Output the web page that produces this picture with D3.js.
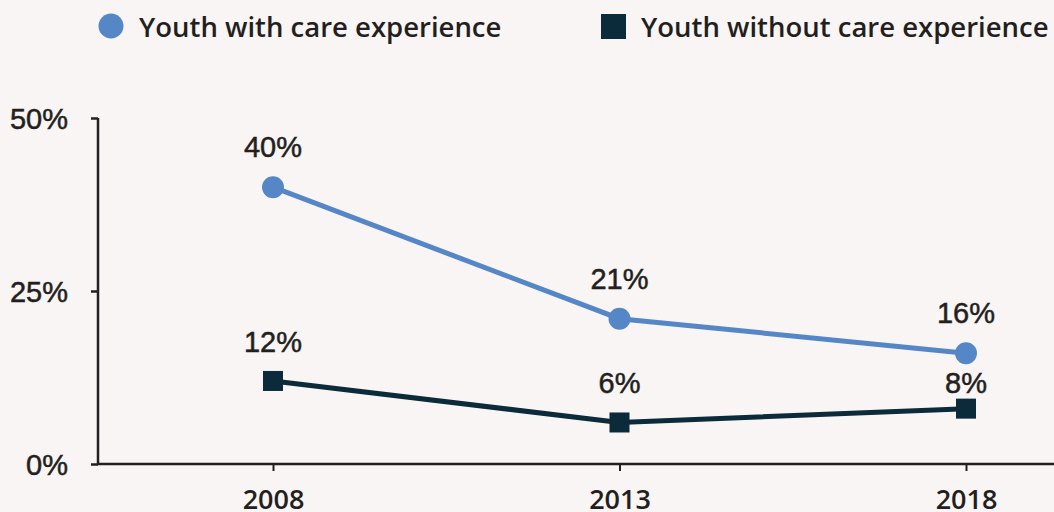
<!DOCTYPE html>
<html>
<head>
<meta charset="utf-8">
<script src="https://cdn.jsdelivr.net/npm/d3@7"></script>
<style>
  html, body { margin: 0; padding: 0; background: #f9f5f4; }
  svg { display: block; }
  .legend text { font-family: "Open Sans", sans-serif; font-weight: 600; font-size: 27.5px; fill: #231f20; }
  .ylab { font-family: "Liberation Sans", Arial, sans-serif; font-size: 29px; fill: #231f20; stroke: #231f20; stroke-width: 0.5px; }
  .xlab { font-family: "Open Sans", sans-serif; font-weight: 600; font-size: 27px; fill: #231f20; }
  .vlab { font-family: "Liberation Sans", Arial, sans-serif; font-size: 29px; fill: #231f20; stroke: #231f20; stroke-width: 0.5px; }
</style>
</head>
<body>
<svg id="chart" width="1054" height="512"></svg>
<script>
// data
var years = ["2008", "2013", "2018"];
var withCare = [40, 21, 16];
var withoutCare = [12, 6, 8];
var yTicks = [0, 25, 50];
var seriesNames = ["Youth with care experience", "Youth without care experience"];

var blue = "#5587c7", navy = "#0b2a3a", ink = "#231f20";

var svg = d3.select("#chart");

// scales
var x = d3.scalePoint().domain(years).range([273, 966]);
var y = d3.scaleLinear().domain([0, 50]).range([464, 118]);

// y axis
var yAxis = svg.append("g").attr("transform", "translate(98,0)")
  .call(d3.axisLeft(y).tickValues(yTicks).tickSize(7).tickPadding(23).tickFormat(function(d) { return d + "%"; }));
yAxis.select(".domain").attr("stroke", ink).attr("stroke-width", 2.5).attr("d", "M0," + y(50) + "V" + y(0));
yAxis.selectAll(".tick line").attr("stroke", ink).attr("stroke-width", 2.5);
yAxis.selectAll(".tick text").attr("class", "ylab").attr("font-family", null).attr("font-size", null).attr("fill", null).attr("dy", "0.36em");

// x axis
var xAxis = svg.append("g").attr("transform", "translate(0," + y(0) + ")")
  .call(d3.axisBottom(x).tickSize(7));
xAxis.select(".domain").attr("stroke", ink).attr("stroke-width", 2.5).attr("d", "M97,0H1054");
xAxis.selectAll(".tick line").attr("stroke", ink).attr("stroke-width", 2);
xAxis.selectAll(".tick text").attr("class", "xlab").attr("font-family", null).attr("font-size", null).attr("fill", null)
  .attr("y", 45).attr("dy", 0);

// lines
var line = d3.line().x(function(d, i) { return x(years[i]); }).y(function(d) { return y(d); });

svg.append("path").datum(withCare).attr("d", line)
  .attr("fill", "none").attr("stroke", blue).attr("stroke-width", 5);
svg.append("path").datum(withoutCare).attr("d", line)
  .attr("fill", "none").attr("stroke", navy).attr("stroke-width", 5);

svg.selectAll("circle.pt").data(withCare).enter().append("circle")
  .attr("class", "pt")
  .attr("cx", function(d, i) { return x(years[i]); })
  .attr("cy", function(d) { return y(d); })
  .attr("r", 11).attr("fill", blue);

svg.selectAll("rect.pt").data(withoutCare).enter().append("rect")
  .attr("class", "pt")
  .attr("x", function(d, i) { return x(years[i]) - 10; })
  .attr("y", function(d) { return y(d) - 10; })
  .attr("width", 20).attr("height", 20).attr("fill", navy);

// value labels
svg.selectAll("text.v1").data(withCare).enter().append("text")
  .attr("class", "vlab").attr("text-anchor", "middle")
  .attr("x", function(d, i) { return x(years[i]); })
  .attr("y", function(d) { return y(d) - 30; })
  .text(function(d) { return d + "%"; });

// the 2018 label sits closer so it clears the blue dot
svg.selectAll("text.v2").data(withoutCare).enter().append("text")
  .attr("class", "vlab").attr("text-anchor", "middle")
  .attr("x", function(d, i) { return x(years[i]); })
  .attr("y", function(d, i) { return y(d) - (i === 2 ? 16 : 29); })
  .text(function(d) { return d + "%"; });

// legend
var leg = svg.append("g").attr("class", "legend");
leg.append("circle").attr("cx", 111).attr("cy", 26).attr("r", 12.5).attr("fill", blue);
leg.append("text").attr("x", 139).attr("y", 37).text(seriesNames[0]);
leg.append("rect").attr("x", 601).attr("y", 14).attr("width", 25).attr("height", 25).attr("fill", navy);
leg.append("text").attr("x", 641).attr("y", 37).text(seriesNames[1]);
</script>
</body>
</html>
